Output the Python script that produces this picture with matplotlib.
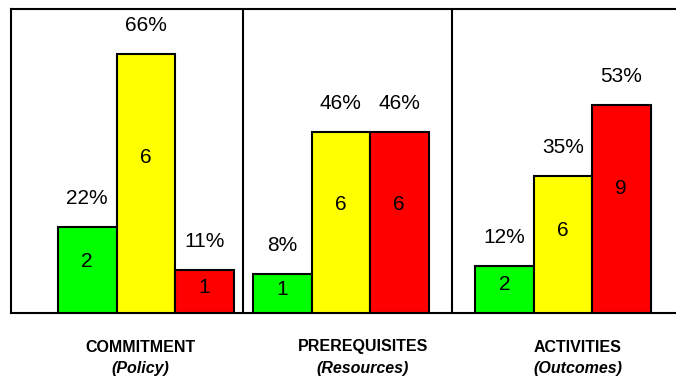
import matplotlib
matplotlib.use('Agg')
import matplotlib.pyplot as plt

plt.rcParams['font.family'] = ['Liberation Sans', 'DejaVu Sans']

# Dados
grupos = ['COMMITMENT', 'PREREQUISITES', 'ACTIVITIES']
subtitulos = ['(Policy)', '(Resources)', '(Outcomes)']
cores = ['#00FF00', '#FFFF00', '#FF0000']
alturas = [[22, 66, 11], [10, 46, 46], [12, 35, 53]]
percentuais = [['22%', '66%', '11%'], ['8%', '46%', '46%'], ['12%', '35%', '53%']]
contagens = [['2', '6', '1'], ['1', '6', '6'], ['2', '6', '9']]

# Layout (em pixels a partir da borda esquerda do eixo)
inicio_grupo = [47, 242, 464]
largura = 58.5
separadores = [232, 441]
centro_rotulo = [129, 352, 567]

fig = plt.figure(figsize=(6.76, 3.79), dpi=100)
ax = fig.add_axes([11 / 676, 1 - 313 / 379, 665 / 676, 304 / 379])

for g in range(3):
    for i in range(3):
        x = inicio_grupo[g] + largura * (i + 0.5)
        h = alturas[g][i]
        ax.bar(x, h, width=largura, color=cores[i], edgecolor='black', linewidth=1.5, zorder=3)
        ax.annotate(percentuais[g][i], (x, h), xytext=(0, 20.5), textcoords='offset points',
                    ha='center', va='center', fontsize=15)
        ax.text(x, h * 0.6, contagens[g][i], ha='center', va='center', fontsize=15, zorder=4)
    ax.text(centro_rotulo[g], -34 * 77.4 / 304, grupos[g], ha='center', va='center',
            fontsize=11.5, fontweight='bold')
    ax.text(centro_rotulo[g], -55 * 77.4 / 304, subtitulos[g], ha='center', va='center',
            fontsize=11.5, fontweight='bold', style='italic')

for s in separadores:
    ax.axvline(s, color='black', linewidth=1.5, zorder=5)

ax.set_xlim(0, 665)
ax.set_ylim(0, 77.4)
ax.set_xticks([])
ax.set_yticks([])
ax.spines['right'].set_visible(False)
for lado in ['left', 'top', 'bottom']:
    ax.spines[lado].set_linewidth(1.5)

plt.savefig('out.png', dpi=100)
